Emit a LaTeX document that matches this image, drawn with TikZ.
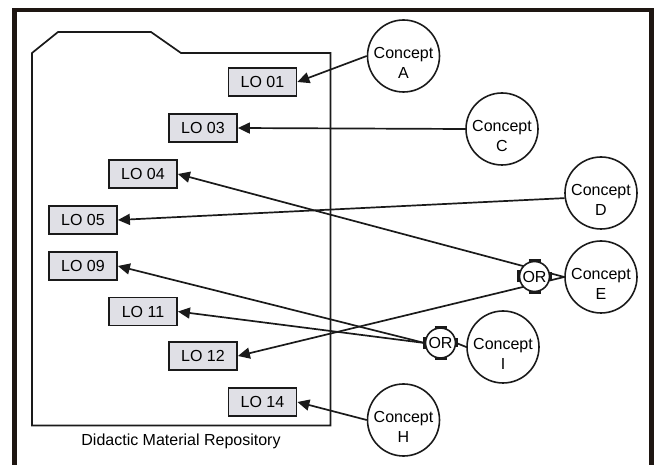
\documentclass[tikz,border=0pt]{standalone}
\usepackage{fontspec}
\setmainfont{Liberation Sans}
\usetikzlibrary{arrows.meta}
\definecolor{lofill}{HTML}{E0E0E6}
\definecolor{ink}{HTML}{1A1A1A}
\definecolor{framecol}{HTML}{1E1612}
\pgfdeclarelayer{bg}
\pgfsetlayers{bg,main}
\begin{document}
\begin{tikzpicture}[x=1pt,y=-1pt,
  txt/.style={font=\fontsize{16}{19.5}\selectfont},
  lobox/.style={txt,draw=ink,fill=lofill,line width=1.8pt,minimum width=68pt,minimum height=28pt,inner sep=0pt},
  concept/.style={circle,draw=ink,line width=1.6pt,minimum size=72pt,inner sep=0pt},
  clabel/.style={label={[txt,align=center,yshift=-7pt]center:Concept\\#1}},
  orgate/.style={circle,draw=ink,fill=white,line width=1.6pt,minimum size=30pt,inner sep=0pt,txt},
  orbar/.style={draw=ink,line width=3.2pt},
  link/.style={draw=ink,line width=1.7pt,-{Triangle[length=12pt,width=11pt]}},
  plain/.style={draw=ink,line width=1.7pt}
]
\useasboundingbox (0,0) rectangle (657,465);
% outer frame
\draw[framecol,line width=4.5pt] (14.5,470) -- (14.5,10) -- (651.5,10) -- (651.5,470);
% folder
\draw[ink,line width=1.7pt] (32,425.5) -- (32,53) -- (58,32) -- (151,32) -- (181,53) -- (330.5,53) -- (330.5,425.5) -- cycle;
\node[txt] (repo) at (181,441) {Didactic Material Repository};
% LO boxes
\node[lobox] (LO01) at (262.5,82) {LO 01};
\node[lobox] (LO03) at (203,128) {LO 03};
\node[lobox] (LO04) at (143,174) {LO 04};
\node[lobox] (LO05) at (83,220) {LO 05};
\node[lobox] (LO09) at (83,266) {LO 09};
\node[lobox] (LO11) at (143,311.5) {LO 11};
\node[lobox] (LO12) at (203,356) {LO 12};
\node[lobox] (LO14) at (262.5,402) {LO 14};
% concepts
\node[concept,clabel=A] (A) at (403.5,56) {};
\node[concept,clabel=C] (C) at (502,129) {};
\node[concept,clabel=D] (D) at (601,193) {};
\node[concept,clabel=E] (E) at (601,277) {};
\node[concept,clabel=I] (I) at (503,347) {};
\node[concept,clabel=H] (H) at (403.5,420) {};
% OR gates
\node[orgate] (ORE) at (534.5,276.5) {OR};
\node[orgate] (ORI) at (440.5,343) {OR};
\foreach \g in {ORE,ORI}{
  \draw[orbar] ([xshift=-6pt]\g.north) -- ([xshift=6pt]\g.north);
  \draw[orbar] ([xshift=-6pt]\g.south) -- ([xshift=6pt]\g.south);
  \draw[orbar] ([yshift=-6pt]\g.west) -- ([yshift=6pt]\g.west);
  \draw[orbar] ([yshift=-4.5pt]\g.east) -- ([yshift=4.5pt]\g.east);
}
% connectors
\begin{pgfonlayer}{bg}
\draw[link] (A.west) -- (LO01.east);
\draw[link] (C.west) -- (LO03.east);
\draw[link] (D.188) -- (LO05.east);
\draw[link] (E.west) -- (LO04.east);
\draw[link] (E.west) -- (LO12.east);
\draw[plain] (I.west) -- (ORI.east);
\draw[link] (ORI.west) -- (LO09.east);
\draw[link] (ORI.west) -- (LO11.east);
\draw[link] (H.west) -- (LO14.east);
\end{pgfonlayer}
\end{tikzpicture}
\end{document}
